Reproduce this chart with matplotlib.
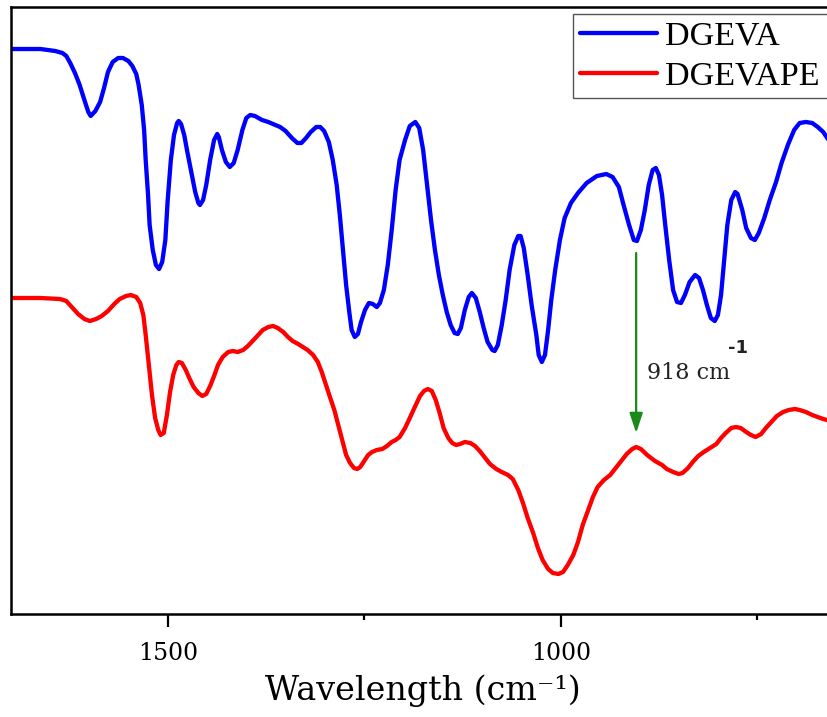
import matplotlib
matplotlib.use("Agg")
import matplotlib.pyplot as plt
from matplotlib.ticker import MultipleLocator

plt.rcParams['font.family'] = ['DejaVu Serif']

# ---------------- data ----------------
series_names = ["DGEVA", "DGEVAPE"]

blue_wn = [1701,1662,1643,1634,1629,1624,1618,1612,1606,1601,
           1598,1592,1586,1581,1576,1570,1563,1557,1550,1545,
           1540,1537,1533,1530,1528,1525,1523,1519,1515,1511,
           1507,1503,1500,1496,1492,1488,1486,1483,1479,1475,
           1470,1465,1461,1459,1455,1451,1446,1441,1437,1435,
           1431,1426,1421,1416,1411,1405,1400,1395,1389,1380,
           1372,1357,1350,1342,1335,1330,1324,1318,1311,1306,
           1301,1295,1290,1285,1281,1277,1273,1269,1266,1262,
           1258,1254,1249,1244,1239,1234,1230,1225,1220,1215,
           1210,1205,1198,1192,1185,1180,1175,1170,1165,1160,
           1155,1150,1145,1140,1135,1131,1127,1122,1117,1113,
           1108,1103,1098,1093,1087,1084,1080,1075,1070,1065,
           1059,1054,1051,1047,1042,1037,1031,1028,1024,1020,
           1016,1012,1007,1001,995,987,978,967,954,942,
           934,926,920,913,907,903,898,893,888,883,
           879,875,871,867,862,857,852,847,842,836,
           829,824,819,814,809,804,800,796,792,788,
           783,778,775,769,764,758,753,748,741,734,
           726,719,711,703,696,688,680,673,666,661,
           650]
blue_t = [563,563,561,559,556,549,539,527,512,500,
          496,501,510,524,540,550,554,554,551,546,
          538,527,507,482,452,417,387,362,347,343,
          350,372,412,452,477,489,491,488,477,460,
          440,420,409,407,412,427,452,472,478,475,
          462,450,445,449,462,482,494,497,496,492,
          490,485,481,474,469,469,474,480,485,485,
          481,470,452,427,397,362,327,300,282,275,
          278,290,302,309,308,305,309,322,347,382,
          422,452,472,486,490,484,462,427,392,362,
          337,317,300,287,279,278,284,302,315,319,
          314,300,284,270,262,261,267,287,312,342,
          367,376,376,364,337,307,277,257,250,257,
          282,312,342,372,394,409,419,429,436,438,
          435,425,407,387,372,371,382,402,427,442,
          444,437,417,387,352,322,310,309,317,330,
          337,334,322,307,294,291,297,317,352,387,
          412,420,418,402,384,374,372,379,394,412,
          430,449,467,482,489,490,489,485,480,474,
          462]

red_wn = [1701,1662,1637,1629,1622,1614,1606,1599,1591,1584,
          1576,1568,1561,1553,1547,1540,1535,1531,1528,1524,
          1520,1516,1512,1509,1505,1501,1497,1493,1489,1486,
          1482,1477,1472,1467,1461,1456,1451,1446,1441,1436,
          1430,1423,1417,1411,1404,1398,1392,1385,1379,1372,
          1366,1360,1353,1347,1341,1334,1328,1322,1315,1309,
          1304,1299,1294,1288,1283,1278,1273,1268,1263,1259,
          1255,1250,1245,1240,1234,1227,1221,1215,1210,1205,
          1198,1192,1185,1179,1174,1169,1164,1159,1154,1149,
          1143,1138,1133,1128,1122,1115,1109,1103,1096,1090,
          1082,1075,1067,1061,1054,1048,1042,1035,1029,1023,
          1016,1010,1003,997,991,984,978,972,965,959,
          953,945,937,930,922,916,909,904,898,890,
          880,871,865,857,850,845,838,832,825,818,
          810,802,796,790,783,777,771,764,758,752,
          745,739,732,725,717,710,702,696,688,680,
          673,666,661,650]
red_t = [314,314,313,311,305,298,293,291,293,296,
         301,308,313,316,317,315,309,297,277,247,
         217,194,182,177,179,197,220,237,247,250,
         249,242,233,225,219,216,218,226,236,247,
         255,260,261,260,262,266,271,277,282,285,
         286,284,280,275,271,268,265,262,257,250,
         240,228,216,202,187,172,157,149,144,143,
         145,151,157,160,162,163,166,170,172,175,
         184,194,206,216,221,223,221,212,199,184,
         174,169,167,168,170,169,166,161,154,148,
         143,140,137,133,122,109,94,79,64,52,
         43,39,38,40,47,57,70,87,102,115,
         125,132,137,144,152,158,163,165,163,157,
         151,147,143,140,138,139,144,150,156,160,
         164,168,174,179,184,185,184,180,177,175,
         178,184,190,196,200,202,203,202,200,197,
         195,193,192,189]

# annotation (arrow marks the 918 cm-1 band)
arrow_wn = 904
arrow_from = 359
arrow_to = 179
ann_text = "918 cm"
ann_sup = "-1"

xlim = (1700, 650)
ylim = (-2, 605)
major_ticks = [1500, 1000]
minor_step = 250

# ---------------- figure ----------------
W, H = 827, 717
fig = plt.figure(figsize=(W / 100, H / 100), dpi=100)
ax = fig.add_axes([10.5 / W, 1 - 614 / H, 825.3 / W, 607 / H])

ax.plot(blue_wn, blue_t, color='#0000FF', lw=3.1, label=series_names[0],
        solid_joinstyle='round', solid_capstyle='round')
ax.plot(red_wn, red_t, color='#FF0000', lw=3.1, label=series_names[1],
        solid_joinstyle='round', solid_capstyle='round')

ax.set_xlim(*xlim)
ax.set_ylim(*ylim)

ax.set_xticks(major_ticks)
ax.xaxis.set_minor_locator(MultipleLocator(minor_step))
ax.set_yticks([])
ax.tick_params(axis='x', which='major', direction='out', length=9, width=1.6,
               labelsize=17, pad=11, top=False)
ax.tick_params(axis='x', which='minor', direction='out', length=4.5, width=1.6, top=False)

for side in ['left', 'top', 'bottom']:
    ax.spines[side].set_linewidth(1.8)
    ax.spines[side].set_color('black')
ax.spines['right'].set_visible(False)

ax.set_xlabel("Wavelength (cm\u207b\u00b9)", fontsize=24, labelpad=7)

# arrow + annotation
green = '#1a8a1a'
ax.annotate('', xy=(arrow_wn, arrow_to), xytext=(arrow_wn, arrow_from),
            arrowprops=dict(arrowstyle='-|>,head_length=0.6,head_width=0.2',
                            color=green, lw=1.6, mutation_scale=20,
                            shrinkA=0, shrinkB=0))
ax.text(890, 233, ann_text, fontsize=16, ha='left', va='baseline', color='#222222')
ax.text(787, 259, ann_sup, fontsize=13, ha='left', va='baseline', color='#222222',
        family='DejaVu Sans', weight='bold')

leg = ax.legend(loc='upper left', prop={'family': 'Liberation Serif', 'size': 24.5},
                bbox_to_anchor=(573 / W, 1 - 14 / H, 280 / W, 0),
                bbox_transform=fig.transFigure, mode='expand',
                handlelength=2.26, handletextpad=0.24, labelspacing=0.27,
                borderpad=0.2, borderaxespad=0, fancybox=False, framealpha=1)
leg.get_frame().set_edgecolor('#555555')
leg.get_frame().set_linewidth(1.0)

fig.savefig('out.png', dpi=100)
